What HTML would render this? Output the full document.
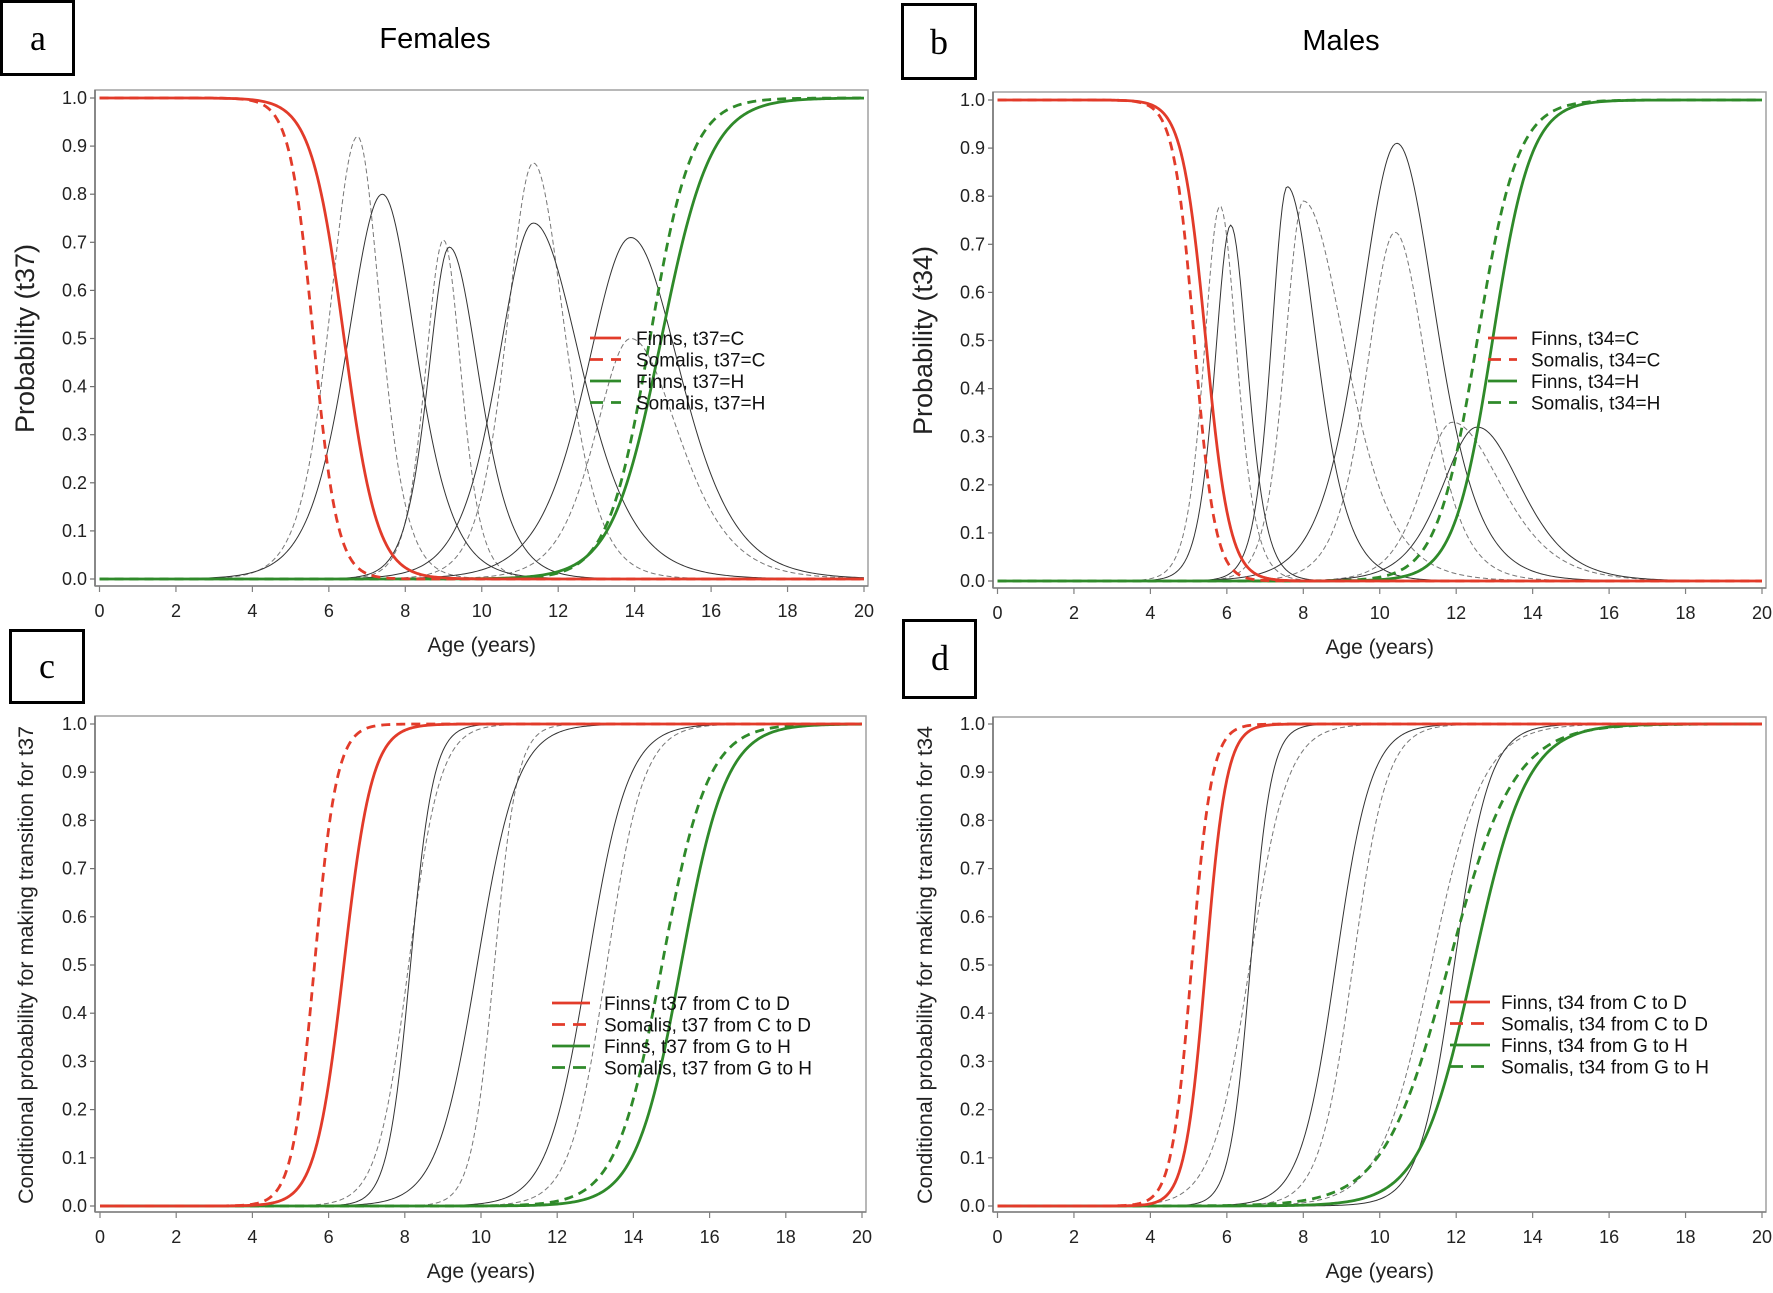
<!DOCTYPE html>
<html><head><meta charset="utf-8">
<style>
html,body{margin:0;padding:0;background:#fff;}
svg{display:block;font-family:"Liberation Sans",Arial,sans-serif;}
</style></head>
<body>
<svg id="fig" width="1773" height="1293" viewBox="0 0 1773 1293" xmlns="http://www.w3.org/2000/svg">
  <rect x="0" y="0" width="1773" height="1293" fill="#fff"/>
  <g><rect x="1.5" y="1.5" width="72" height="73" fill="none" stroke="#000" stroke-width="3"/><text x="38" y="50" font-family="Liberation Serif,serif" font-size="36" text-anchor="middle">a</text></g>
  <g><rect x="902.5" y="4.5" width="73" height="74" fill="none" stroke="#000" stroke-width="3"/><text x="939" y="54" font-family="Liberation Serif,serif" font-size="36" text-anchor="middle">b</text></g>
  <g><rect x="10.5" y="630.5" width="73" height="72" fill="none" stroke="#000" stroke-width="3"/><text x="47" y="678" font-family="Liberation Serif,serif" font-size="36" text-anchor="middle">c</text></g>
  <g><rect x="903.5" y="620.5" width="72" height="77" fill="none" stroke="#000" stroke-width="3"/><text x="940" y="670" font-family="Liberation Serif,serif" font-size="36" text-anchor="middle">d</text></g>
  <text x="435" y="48" font-size="29" text-anchor="middle">Females</text>
  <text x="1341" y="50" font-size="29" text-anchor="middle">Males</text>
</svg>
<script>
// ---- Data: panel a (Females, state probabilities t37) ----
const ticksX = [0,2,4,6,8,10,12,14,16,18,20];
const ticksY = [0.0,0.1,0.2,0.3,0.4,0.5,0.6,0.7,0.8,0.9,1.0];
const aSigMid = [6.4, 5.6, 14.7, 14.4];
const aSigScale = [0.43, 0.31, 0.65, 0.55];
const aSigDir = [-1, -1, 1, 1];
const aBellSolidPeak = [7.4, 9.15, 11.35, 13.9];
const aBellSolidHeight = [0.80, 0.69, 0.74, 0.71];
const aBellSolidLeftW = [1.0, 0.6, 1.0, 1.25];
const aBellSolidRightW = [0.95, 0.85, 1.35, 1.4];
const aBellDashPeak = [6.75, 9.0, 11.35, 13.9];
const aBellDashHeight = [0.92, 0.705, 0.865, 0.5];
const aBellDashLeftW = [0.78, 0.52, 0.75, 1.0];
const aBellDashRightW = [0.65, 0.5, 0.88, 1.35];
// ---- panel b (Males, t34) ----
const bSigMid = [5.45, 5.15, 12.95, 12.55];
const bSigScale = [0.31, 0.27, 0.5, 0.53];
const bSigDir = [-1, -1, 1, 1];
const bBellSolidPeak = [6.1, 7.58, 10.45, 12.55];
const bBellSolidHeight = [0.74, 0.82, 0.91, 0.32];
const bBellSolidLeftW = [0.45, 0.45, 1.05, 1.0];
const bBellSolidRightW = [0.48, 0.82, 1.1, 1.25];
const bBellDashPeak = [5.82, 8.0, 10.4, 11.9];
const bBellDashHeight = [0.78, 0.79, 0.725, 0.33];
const bBellDashLeftW = [0.45, 0.52, 0.8, 0.85];
const bBellDashRightW = [0.48, 1.2, 0.9, 1.38];
// ---- panel c (Females conditional transitions t37) ----
const cSigMid = [6.4, 5.63, 15.25, 14.75];
const cSigScale = [0.37, 0.29, 0.59, 0.6];
const cSigDir = [1, 1, 1, 1];
const cThinSolidMid = [8.15, 9.9, 12.8];
const cThinSolidScale = [0.30, 0.53, 0.53];
const cThinDashMid = [8.1, 10.35, 13.3];
const cThinDashScale = [0.41, 0.30, 0.48];
// ---- panel d (Males conditional transitions t34) ----
const dSigMid = [5.45, 5.08, 12.45, 11.8];
const dSigScale = [0.27, 0.26, 0.7, 0.85];
const dSigDir = [1, 1, 1, 1];
const dThinSolidMid = [6.62, 8.85, 11.95];
const dThinSolidScale = [0.27, 0.46, 0.46];
const dThinDashMid = [6.6, 9.3, 11.35];
const dThinDashScale = [0.49, 0.44, 0.67];
// legend labels
const aLegend = ["Finns, t37=C","Somalis, t37=C","Finns, t37=H","Somalis, t37=H"];
const bLegend = ["Finns, t34=C","Somalis, t34=C","Finns, t34=H","Somalis, t34=H"];
const cLegend = ["Finns, t37 from C to D","Somalis, t37 from C to D","Finns, t37 from G to H","Somalis, t37 from G to H"];
const dLegend = ["Finns, t34 from C to D","Somalis, t34 from C to D","Finns, t34 from G to H","Somalis, t34 from G to H"];

const NS = "http://www.w3.org/2000/svg";
const svg = document.getElementById("fig");
const RED = "#e23b2a", GREEN = "#2f8a2a";
const colorStyles = [
  {c:RED, d:null}, {c:RED, d:"9,6"}, {c:GREEN, d:null}, {c:GREEN, d:"9,6"}
];
function mk(tag, attrs, parent){
  const e = document.createElementNS(NS, tag);
  for (const k in attrs) e.setAttribute(k, attrs[k]);
  (parent||svg).appendChild(e);
  return e;
}
function logistic(t, m, s, dir){ const v = 1/(1+Math.exp(-(t-m)/s)); return dir>0 ? v : 1-v; }
function bell(t, p, h, wl, wr){
  const w = (t<p ? wl : wr)*1.25;
  const c = Math.cosh((t-p)/w);
  return h/(c*c);
}

function panel(cfg){
  const g = mk("g", {});
  
  
  const sx = v => cfg.x0 + (cfg.x20-cfg.x0)*v/20;
  const sy = v => cfg.y0 - (cfg.y0-cfg.y1)*v;
  const fr = mk("rect", {x:cfg.fl, y:cfg.ft, width:cfg.fr-cfg.fl, height:cfg.fb-cfg.ft, fill:"none", stroke:"#a0a0a0", "stroke-width":1.5}, g);
  
  
  const ax = mk("line", {x1:cfg.fl, y1:cfg.ft, x2:cfg.fl, y2:cfg.fb, stroke:"#707070", "stroke-width":1.5}, g);
  
  
  const bx = mk("line", {x1:cfg.fl, y1:cfg.fb, x2:cfg.fr, y2:cfg.fb, stroke:"#808080", "stroke-width":1.5}, g);
  
  
  ticksY.forEach(v => {
    const y = sy(v);
    mk("line", {x1:cfg.fl-5, y1:y, x2:cfg.fl, y2:y, stroke:"#707070", "stroke-width":1.2}, g);
    const t = mk("text", {x:cfg.fl-8, y:y+6, "font-size":18, "text-anchor":"end", fill:"#222"}, g);
    
    
    t.textContent = v.toFixed(1);
  });
  ticksX.forEach(v => {
    const x = sx(v);
    mk("line", {x1:x, y1:cfg.fb, x2:x, y2:cfg.fb+6, stroke:"#808080", "stroke-width":1.2}, g);
    const t = mk("text", {x:x, y:cfg.fb+31, "font-size":18, "text-anchor":"middle", fill:"#222"}, g);
    
    
    t.textContent = String(v);
  });
  const xt = mk("text", {x:(cfg.x0+cfg.x20)/2, y:cfg.fb+66, "font-size":21, "text-anchor":"middle", fill:"#222"}, g);
  
  
  xt.textContent = "Age (years)";
  const yt = mk("text", {x:0, y:0, "font-size":cfg.ytSize, "text-anchor":"middle", fill:"#222", transform:"translate("+cfg.ytx+","+((cfg.y0+cfg.y1)/2)+") rotate(-90)"}, g);
  
  
  yt.textContent = cfg.ytitle;

  function curve(fn, color, width, dash, name){
    let d = "";
    for (let i=0;i<=400;i++){
      const t = 20*i/400;
      d += (i?"L":"M") + sx(t).toFixed(2) + "," + sy(fn(t)).toFixed(2);
    }
    const p = mk("path", {d:d, fill:"none", stroke:color, "stroke-width":width, "stroke-linejoin":"round"}, g);
    if (dash) p.setAttribute("stroke-dasharray", dash);
    
    
  }
  if (cfg.bellSolidPeak){
    cfg.bellDashPeak.forEach((p,i) => curve(t => bell(t, p, cfg.bellDashHeight[i], cfg.bellDashLeftW[i], cfg.bellDashRightW[i]), "#777", 1, "5,3", "somalis-intermediate-state-"+i));
    cfg.bellSolidPeak.forEach((p,i) => curve(t => bell(t, p, cfg.bellSolidHeight[i], cfg.bellSolidLeftW[i], cfg.bellSolidRightW[i]), "#333", 1, null, "finns-intermediate-state-"+i));
  } else {
    cfg.thinDashMid.forEach((m,i) => curve(t => logistic(t, m, cfg.thinDashScale[i], 1), "#777", 1, "5,3", "somalis-intermediate-transition-"+i));
    cfg.thinSolidMid.forEach((m,i) => curve(t => logistic(t, m, cfg.thinSolidScale[i], 1), "#333", 1, null, "finns-intermediate-transition-"+i));
  }
  const order = [2,3,0,1];
  order.forEach(i => curve(t => logistic(t, cfg.sigMid[i], cfg.sigScale[i], cfg.sigDir[i]), colorStyles[i].c, 2.8, colorStyles[i].d, "series-"+cfg.legend[i].replace(/[^A-Za-z0-9]+/g,"-").toLowerCase()));
  cfg.legend.forEach((lab,i) => {
    const y = cfg.ly + i*21.5;
    const ln = mk("line", {x1:cfg.lx1, y1:y, x2:cfg.lx2, y2:y, stroke:colorStyles[i].c, "stroke-width":2.8}, g);
    if (colorStyles[i].d) ln.setAttribute("stroke-dasharray", "13,8");
    
    
    const t = mk("text", {x:cfg.ltx, y:y+7, "font-size":19, fill:"#111"}, g);
    
    
    t.textContent = lab;
  });
}

panel({name:"panel-a-females-probability", x0:99.5, x20:864, y1:98, y0:579, fl:95, fr:868, ft:90, fb:586,
  ytitle:"Probability (t37)", ytSize:27, ytx:34,
  sigMid:aSigMid, sigScale:aSigScale, sigDir:aSigDir, legend:aLegend,
  bellSolidPeak:aBellSolidPeak, bellSolidHeight:aBellSolidHeight, bellSolidLeftW:aBellSolidLeftW, bellSolidRightW:aBellSolidRightW,
  bellDashPeak:aBellDashPeak, bellDashHeight:aBellDashHeight, bellDashLeftW:aBellDashLeftW, bellDashRightW:aBellDashRightW,
  lx1:590, lx2:621, ltx:636, ly:338});
panel({name:"panel-b-males-probability", x0:997.5, x20:1762, y1:100, y0:581, fl:993, fr:1766, ft:92, fb:588,
  ytitle:"Probability (t34)", ytSize:27, ytx:932,
  sigMid:bSigMid, sigScale:bSigScale, sigDir:bSigDir, legend:bLegend,
  bellSolidPeak:bBellSolidPeak, bellSolidHeight:bBellSolidHeight, bellSolidLeftW:bBellSolidLeftW, bellSolidRightW:bBellSolidRightW,
  bellDashPeak:bBellDashPeak, bellDashHeight:bBellDashHeight, bellDashLeftW:bBellDashLeftW, bellDashRightW:bBellDashRightW,
  lx1:1488, lx2:1517, ltx:1531, ly:338});
panel({name:"panel-c-females-conditional", x0:100, x20:862, y1:724, y0:1206, fl:95, fr:866, ft:716, fb:1212,
  ytitle:"Conditional probability for making transition for t37", ytSize:21.5, ytx:33,
  sigMid:cSigMid, sigScale:cSigScale, sigDir:cSigDir, legend:cLegend,
  thinSolidMid:cThinSolidMid, thinSolidScale:cThinSolidScale, thinDashMid:cThinDashMid, thinDashScale:cThinDashScale,
  lx1:552, lx2:590, ltx:604, ly:1003});
panel({name:"panel-d-males-conditional", x0:997.5, x20:1762, y1:724, y0:1206, fl:993, fr:1766, ft:717, fb:1212,
  ytitle:"Conditional probability for making transition for t34", ytSize:21.5, ytx:932,
  sigMid:dSigMid, sigScale:dSigScale, sigDir:dSigDir, legend:dLegend,
  thinSolidMid:dThinSolidMid, thinSolidScale:dThinSolidScale, thinDashMid:dThinDashMid, thinDashScale:dThinDashScale,
  lx1:1450, lx2:1490, ltx:1501, ly:1002});
</script>
</body></html>
